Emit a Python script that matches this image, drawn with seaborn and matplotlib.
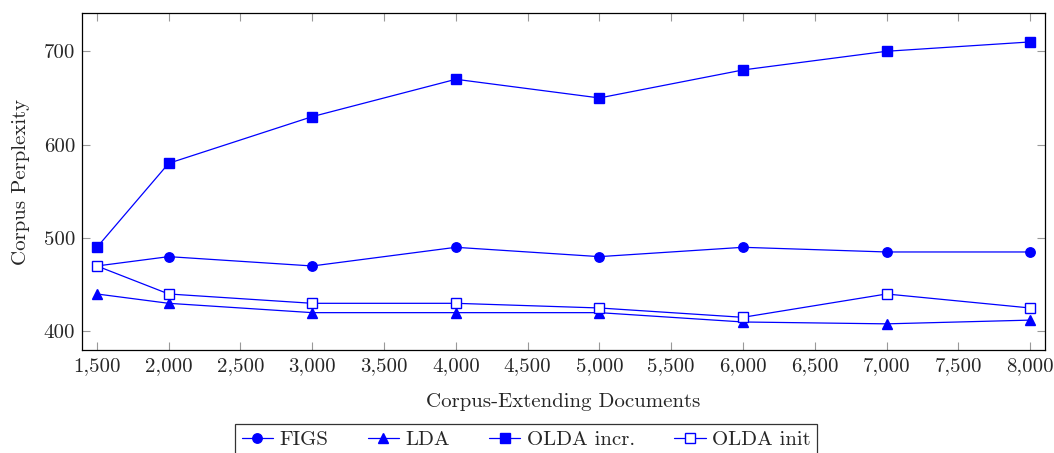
import matplotlib
matplotlib.use("Agg")
import matplotlib.pyplot as plt
import matplotlib.ticker as mticker
import seaborn as sns
import pandas as pd

docs = [1500, 2000, 3000, 4000, 5000, 6000, 7000, 8000]
figs = [470, 480, 470, 490, 480, 490, 485, 485]
lda = [440, 430, 420, 420, 420, 410, 408, 412]
olda_incr = [490, 580, 630, 670, 650, 680, 700, 710]
olda_init = [470, 440, 430, 430, 425, 415, 440, 425]

series_names = ["FIGS", "LDA", "OLDA incr.", "OLDA init"]
series_values = [figs, lda, olda_incr, olda_init]
x_ticks = [1500, 2000, 2500, 3000, 3500, 4000, 4500, 5000, 5500, 6000, 6500, 7000, 7500, 8000]
y_ticks = [400, 500, 600, 700]

sns.set_style("white")
plt.rcParams["font.family"] = ["cmr10", "DejaVu Serif"]
plt.rcParams["axes.formatter.use_mathtext"] = True
plt.rcParams["axes.unicode_minus"] = False

FS = 15

fig = plt.figure(figsize=(10.54, 4.53), dpi=100)
ax = fig.add_axes([0.0778, 0.2274, 0.9137, 0.7439])

styles = {
    "FIGS": dict(marker="o", markersize=6.8, markerfacecolor="blue"),
    "LDA": dict(marker="^", markersize=6.5, markerfacecolor="blue"),
    "OLDA incr.": dict(marker="s", markersize=6.5, markerfacecolor="blue"),
    "OLDA init": dict(marker="s", markersize=6.5, markerfacecolor="white"),
}

handles = []
for name, vals in zip(series_names, series_values):
    df = pd.DataFrame({"docs": docs, "perplexity": vals})
    st = styles[name]
    sns.lineplot(data=df, x="docs", y="perplexity", ax=ax, color="blue",
                 linewidth=0.9, marker=st["marker"], markersize=st["markersize"],
                 markerfacecolor=st["markerfacecolor"], markeredgecolor="blue",
                 markeredgewidth=1.0, label=name, legend=False)
    handles.append(ax.lines[-1])

ax.set_xlim(1396, 8104)
ax.set_ylim(380, 741)
ax.set_xticks(x_ticks)
ax.set_yticks(y_ticks)
ax.xaxis.set_major_formatter(mticker.FuncFormatter(lambda v, p: f"{int(v):,}"))
ax.yaxis.set_major_formatter(mticker.FuncFormatter(lambda v, p: f"{int(v)}"))
ax.tick_params(axis="both", which="major", direction="in", length=6, width=0.8,
               color="#999999", labelsize=FS, top=True, right=True,
               bottom=True, left=True, pad=5)
for sp in ax.spines.values():
    sp.set_color("black")
    sp.set_linewidth(0.9)

ax.set_xlabel("Corpus-Extending Documents", fontsize=FS, labelpad=13)
ax.set_ylabel("Corpus Perplexity", fontsize=FS, labelpad=10)

leg = fig.legend(handles=handles, labels=series_names, ncol=4,
                 loc="upper center", bbox_to_anchor=(526 / 1054, 1 - 424 / 453),
                 borderaxespad=0, frameon=True, fancybox=False, edgecolor="black",
                 fontsize=FS, handlelength=1.5, handletextpad=0.3,
                 columnspacing=1.9, borderpad=0.3)
leg.get_frame().set_linewidth(0.9)

fig.savefig("out.png", dpi=100)
